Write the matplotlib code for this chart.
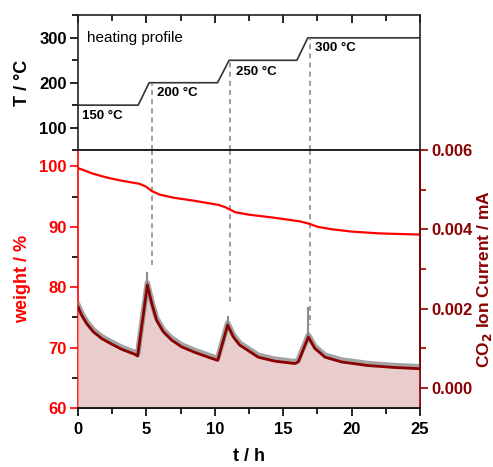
import numpy as np
import matplotlib.pyplot as plt
import matplotlib.transforms as mtransforms
from matplotlib.ticker import MultipleLocator, FormatStrFormatter

plt.rcParams['font.family'] = ['Liberation Sans', 'DejaVu Sans']

# heating profile
prof_t = [0, 4.4, 5.2, 10.2, 11.05, 16.0, 16.8, 25]
prof_T = [150, 150, 200, 200, 250, 250, 300, 300]
step_labels = ["150 °C", "200 °C", "250 °C", "300 °C"]
step_label_t = [0.3, 5.8, 11.55, 17.3]
step_label_T = [125, 178, 225, 278]

# markers for the steps
mark_t = [5.39, 11.11, 16.96]
mark_T = [200, 250, 300]
mark_w_end = [83.6, 77.0, 73.7]

# weight (TGA)
w_t = [0, 0.5, 1, 2, 3, 4, 4.5, 5.0, 5.4, 6.0, 7.0, 8.5, 10.3, 10.8, 11.5, 12.5, 14.3, 16.2,
       16.9, 17.5, 18.5, 20, 22, 25]
w_val = [99.7, 99.3, 98.85, 98.2, 97.7, 97.3, 97.1, 96.6, 95.9, 95.3, 94.8, 94.3, 93.6, 93.2,
         92.4, 92.0, 91.5, 90.9, 90.5, 90.0, 89.6, 89.2, 88.9, 88.7]

# CO2 ion current (smoothed)
ion_t = [0, 0.27, 0.63, 1.12, 1.73, 2.46, 3.19, 4.17, 4.36, 5.07, 5.39, 5.75, 6.24, 6.85,
         7.58, 8.55, 9.53, 10.21, 10.94, 11.36, 11.84, 12.21, 13.18, 14.4, 15.86, 16.1,
         16.84, 17.32, 18.06, 19.28, 21.2, 23.17, 25]
ion_val = [0.00205, 0.00184, 0.00163, 0.00142, 0.00125, 0.00111, 0.00098, 0.00085, 0.00081,
           0.0026, 0.00214, 0.00171, 0.00142, 0.00121, 0.00104, 0.0009, 0.00078, 0.0007,
           0.00159, 0.00129, 0.00108, 0.001, 0.00078, 0.00068, 0.00062, 0.00066,
           0.00129, 0.001, 0.00078, 0.00066, 0.00057, 0.00052, 0.00049]
# raw spikes at the peaks
spike_t = [5.07, 10.94, 16.84]
spike_base = [0.0026, 0.00159, 0.00129]
spike_val = [0.0029, 0.0018, 0.00202]

red = '#ff0000'
dred = '#8b0000'
gray = '#8c8c8c'

fig = plt.figure(figsize=(4.93, 4.67), dpi=100)
ax_T = fig.add_axes([0.1582, 0.6788, 0.6937, 0.2891])
ax_w = fig.add_axes([0.1582, 0.1263, 0.6937, 0.5525])
ax_i = ax_w.twinx()

# --- top panel ---
ax_T.plot(prof_t, prof_T, color='#333333', lw=1.2)
for t, T in zip(mark_t, mark_T):
    ax_T.plot([t, t], [50, T], color=gray, lw=1.2, ls=(0, (3, 2.5)))
for s, t, T in zip(step_labels, step_label_t, step_label_T):
    ax_T.text(t, T, s, fontsize=9.5, fontweight='bold', va='center', ha='left')
ax_T.text(0.63, 300, "heating profile", fontsize=11, va='center', ha='left')
ax_T.set_xlim(0, 25)
ax_T.set_ylim(50, 351)
ax_T.yaxis.set_major_locator(MultipleLocator(100))
ax_T.yaxis.set_minor_locator(MultipleLocator(50))
ax_T.xaxis.set_major_locator(MultipleLocator(5))
ax_T.xaxis.set_minor_locator(MultipleLocator(2.5))
ax_T.tick_params(axis='x', which='both', direction='in', top=True, bottom=False,
                 labelbottom=False, width=1.2)
ax_T.tick_params(axis='x', which='major', length=6)
ax_T.tick_params(axis='x', which='minor', length=4)
ax_T.tick_params(axis='y', which='both', direction='out', width=1.2, labelsize=12, pad=2)
ax_T.tick_params(axis='y', which='major', length=6)
ax_T.tick_params(axis='y', which='minor', length=4)
for lab in ax_T.get_yticklabels():
    lab.set_fontweight('bold')
for sp in ax_T.spines.values():
    sp.set_linewidth(1.2)
    sp.set_color('#222222')
ax_T.set_ylabel("T / °C", fontsize=13, fontweight='bold', labelpad=6)

# --- bottom panel: weight ---
ax_w.plot(w_t, w_val, color=red, lw=1.6, zorder=3)
for t, y in zip(mark_t, mark_w_end):
    ax_w.plot([t, t], [102.7, y], color=gray, lw=1.2, ls=(0, (3, 2.5)))
ax_w.set_xlim(0, 25)
ax_w.set_ylim(60, 102.7)
ax_w.yaxis.set_major_locator(MultipleLocator(10))
ax_w.yaxis.set_minor_locator(MultipleLocator(5))
ax_w.xaxis.set_major_locator(MultipleLocator(5))
ax_w.xaxis.set_minor_locator(MultipleLocator(2.5))
ax_w.tick_params(axis='both', which='both', direction='out', width=1.2, labelsize=12, pad=2)
ax_w.tick_params(axis='both', which='major', length=6)
ax_w.tick_params(axis='both', which='minor', length=4)
ax_w.tick_params(axis='x', pad=4)
ax_w.tick_params(axis='y', colors=red)
for lab in ax_w.get_xticklabels() + ax_w.get_yticklabels():
    lab.set_fontweight('bold')
ax_w.spines['left'].set_color(red)
for sp in ax_w.spines.values():
    sp.set_linewidth(1.2)
ax_w.spines['bottom'].set_color('#222222')
ax_w.spines['top'].set_color('#222222')
ax_w.set_ylabel("weight / %", fontsize=13, fontweight='bold', color=red, labelpad=6)
ax_w.set_xlabel("t / h", fontsize=13, fontweight='bold', labelpad=8)

# --- bottom panel: CO2 ion current ---
ax_i.fill_between(ion_t, ion_val, -0.0005, color='#e9cdcd', lw=0, zorder=1)
shift = mtransforms.offset_copy(ax_i.transData, fig=fig, x=0, y=1.4, units='points')
ax_i.plot(ion_t, ion_val, color=gray, lw=4, alpha=0.8, transform=shift, zorder=2)
for t, v0, v1 in zip(spike_t, spike_base, spike_val):
    ax_i.plot([t, t], [v0, v1], color=gray, lw=1.5, zorder=2)
ax_i.plot(ion_t, ion_val, color=dred, lw=2, zorder=3)
ax_i.set_ylim(-0.0005, 0.006)
ax_i.yaxis.set_major_locator(MultipleLocator(0.002))
ax_i.yaxis.set_minor_locator(MultipleLocator(0.001))
ax_i.yaxis.set_major_formatter(FormatStrFormatter('%.3f'))
ax_i.tick_params(axis='y', which='both', direction='out', width=1.2, labelsize=12,
                 pad=2, colors=dred)
ax_i.tick_params(axis='y', which='major', length=6)
ax_i.tick_params(axis='y', which='minor', length=4)
for lab in ax_i.get_yticklabels():
    lab.set_fontweight('bold')
ax_i.spines['right'].set_color(dred)
ax_i.spines['left'].set_visible(False)
for sp in ax_i.spines.values():
    sp.set_linewidth(1.2)
ax_i.spines['top'].set_color('#222222')
ax_i.set_ylabel("CO$_\\mathbf{2}$ Ion Current / mA", fontsize=12.5, fontweight='bold',
                color=dred, labelpad=2)

fig.savefig("out.png", dpi=100)
